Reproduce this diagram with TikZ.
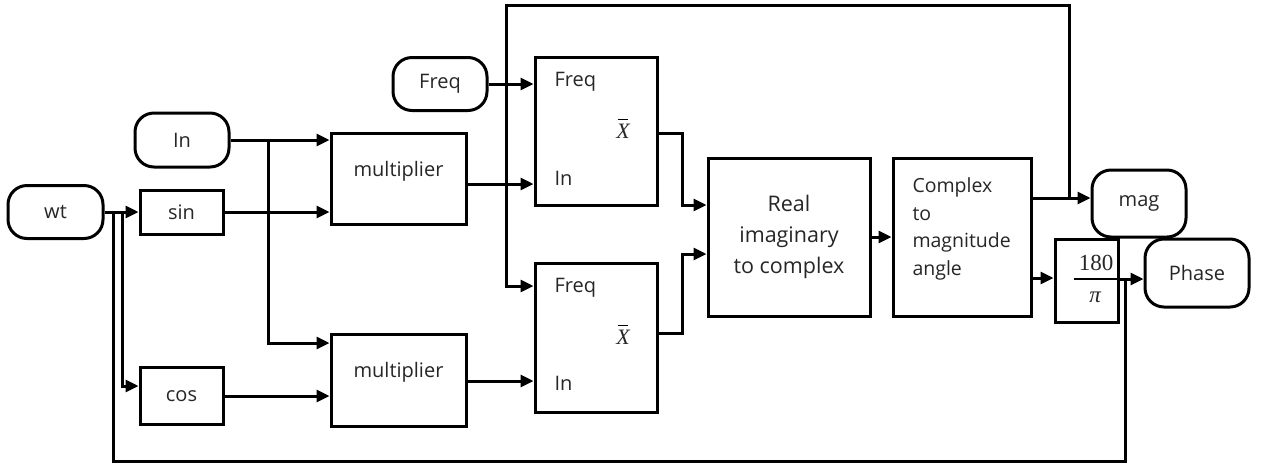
\documentclass[tikz,border=0pt]{standalone}
\usepackage{fontspec}
\setmainfont{Open Sans}
\newfontfamily\mathlike{Liberation Serif}
\usetikzlibrary{arrows.meta}
\begin{document}
\begin{tikzpicture}[x=1pt,y=-1pt,line width=3pt,
  arr/.style={-{Triangle[length=13pt,width=12pt]}},
  blk/.style={draw,rectangle,inner sep=0pt,minimum width=#1},
  term/.style={draw,rectangle,rounded corners=19pt,inner sep=0pt,minimum width=#1},
  txt/.style={font=\fontsize{20}{24}\selectfont,text=black!85,inner sep=0pt},
  port/.style={txt,anchor=west},
  xbar/.style={txt,font=\fontsize{22}{24}\selectfont\mathlike\itshape}]
\useasboundingbox (0,0) rectangle (1265,467);
% terminals
\node[term=95,minimum height=53,txt,draw] (wt) at (55.5,212) {wt};
\node[term=94,minimum height=54,txt,draw] (in) at (182,140) {In};
\node[term=94,minimum height=53,txt,draw] (freq) at (440,84) {Freq};
\node[term=94,minimum height=67,txt,draw] (mag) at (1139,203.5) {mag};
\node[term=104,minimum height=68,txt,draw] (phase) at (1197,273) {Phase};
% blocks
\node[blk=83,minimum height=44,txt,draw] (sin) at (181.5,212) {sin};
\node[blk=83,minimum height=57,txt,draw] (cos) at (181.5,396) {cos};
\node[blk=135,minimum height=91,draw] (m1) at (398.5,178.5) {};
\node[txt] (m1t) at (398.5,171) {multiplier};
\node[blk=135,minimum height=92,draw] (m2) at (398.5,380) {};
\node[txt] (m2t) at (398.5,372) {multiplier};
\node[blk=122,minimum height=148,draw] (b1) at (596,131) {};
\node[port] (b1f) at (553,82) {Freq};
\node[xbar] (b1x) at (623,131) {X};
\draw[line width=1.1pt] ([xshift=-5pt,yshift=2.5pt]b1x.north) -- ([xshift=5pt,yshift=2.5pt]b1x.north);
\node[port] (b1i) at (553,178) {In};
\node[blk=122,minimum height=149,draw] (b2) at (596,337.5) {};
\node[port] (b2f) at (553,288) {Freq};
\node[xbar] (b2x) at (623,337) {X};
\draw[line width=1.1pt] ([xshift=-5pt,yshift=2.5pt]b2x.north) -- ([xshift=5pt,yshift=2.5pt]b2x.north);
\node[port] (b2i) at (553,383) {In};
\node[blk=162,minimum height=158,draw,txt,align=center,
  font=\fontsize{21.5}{31}\selectfont] (real) at (789,237) {Real\\imaginary\\to complex};
\node[blk=138,minimum height=158,draw] (cplx) at (962,237) {};
\node[txt,anchor=west,align=left,font=\fontsize{19.5}{27.5}\selectfont] (cplxt) at (911,229)
  {Complex\\to\\magnitude\\angle};
\node[blk=63,minimum height=83,draw] (gain) at (1086.5,280.5) {};
\node[txt,font=\fontsize{23}{24}\selectfont\mathlike] (g180) at (1096,263) {180};
\node[txt,font=\fontsize{23}{24}\selectfont\mathlike\itshape] (gpi) at (1095,297) {π};
\coordinate (fl) at (1074,279);
\draw[line width=1.2pt] (fl) -- (fl -| gain.east);
% junction coordinates
\coordinate (jw1) at (113,212);
\coordinate (jw2) at (122,212);
\coordinate (jin) at (268,140);
\coordinate (top1) at (506,5);
\coordinate (top2) at (1069,5);
\coordinate (jm) at (1069,198);
\coordinate (jr) at (682,205);
\coordinate (jr2) at (682,254);
\coordinate (jp) at (1125,279);
\coordinate (bot) at (113,461);
% connectors
\draw[arr] (wt.east) -- (sin.west);
\draw[arr] (jw2) |- (cos.west |- 0,386);
\draw (jw1) -- (bot) -| (jp);
\draw[arr] (in.east) -- (in.east -| m1.west);
\draw[arr] (jin) |- (m2.west |- 0,343);
\draw[arr] (sin.east) -- (sin.east -| m1.west);
\draw[arr] (cos.east) -- (cos.east -| m2.west);
\draw[arr] (m1.east |- 0,184) -- (b1.west |- 0,184);
\draw[arr] (m2.east |- 0,381) -- (b2.west |- 0,381);
\draw[arr] (freq.east) -- (freq.east -| b1.west);
\draw[arr] (jm) -- (top2) -- (top1) |- (b2.west |- 0,286);
\draw[arr] (b1.east |- 0,133) -| (jr) -- (real.west |- jr);
\draw[arr] (b2.east |- 0,333) -| (jr2) -- (real.west |- jr2);
\draw[arr] (real.east) -- (cplx.west);
\draw[arr] (cplx.east |- jm) -- (mag.west |- jm);
\draw[arr] (cplx.east |- 0,278) -- (gain.west |- 0,278);
\draw[arr] (gain.east |- jp) -- (phase.west |- jp);
\end{tikzpicture}
\end{document}
